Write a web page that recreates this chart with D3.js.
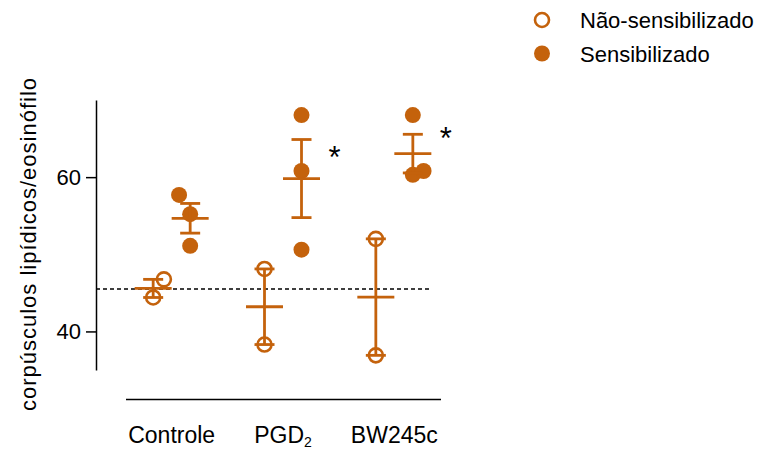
<!DOCTYPE html>
<html>
<head>
<meta charset="utf-8">
<script src="https://cdn.jsdelivr.net/npm/d3@7"></script>
<style>
  body { margin: 0; background: #fff; }
  svg { font-family: "Liberation Sans", Arial, sans-serif; }
</style>
</head>
<body>
<div id="container"></div>
<script>
/* DATA */
const categories = ['Controle', 'PGD2', 'BW245c'];
const series = ['Não-sensibilizado', 'Sensibilizado'];

// values per category, one array per series
const naoSensValues = [[44.4, 46.75], [48.1, 38.3], [52.0, 36.9]];
const sensValues = [[57.7, 55.2, 51.1], [68.05, 60.8, 50.6], [68.05, 60.3, 60.8]];
// small horizontal jitter of overlapping points (fraction of series spacing)
const naoSensJitter = [[0, 0.29], [0, 0], [0, 0]];
const sensJitter = [[-0.3, 0, 0], [0, 0, 0], [0, 0, 0.29]];

const yTicks = [40, 60];
const baseline = 45.5;           // dashed reference line
const signif = [{ cat: 'PGD2', y: 63.3 }, { cat: 'BW245c', y: 65.7 }];

const color = '#c4620c';

/* SVG */
const width = 768, height = 450;
const svg = d3.select('#container').append('svg')
  .attr('width', width)
  .attr('height', height);

// scales
const x = d3.scaleBand().domain(categories).range([116, 450]);
const xs = d3.scalePoint().domain(series).range([-18.5, 18.5]);
const y = d3.scaleLinear().domain([35, 70]).range([370, 100]);
const step = xs(series[1]) - xs(series[0]);

// build point + stats table
const groups = [];
categories.forEach((c, i) => {
  [naoSensValues[i], sensValues[i]].forEach((vals, s) => {
    const jit = s === 0 ? naoSensJitter[i] : sensJitter[i];
    const m = d3.mean(vals);
    const sem = d3.deviation(vals) / Math.sqrt(vals.length);
    groups.push({
      cat: c, series: series[s], filled: s === 1,
      cx: x(c) + x.bandwidth() / 2 + xs(series[s]),
      pts: vals.map((v, k) => ({ v, j: jit[k] })),
      mean: m, sem
    });
  });
});

// y axis
const yAxis = svg.append('g')
  .attr('transform', 'translate(96,0)')
  .call(d3.axisLeft(y).tickValues(yTicks).tickSize(10).tickPadding(5).tickSizeOuter(0));
yAxis.select('.domain').attr('stroke', '#000').attr('stroke-width', 1.5);
yAxis.selectAll('.tick line').attr('stroke', '#000').attr('stroke-width', 1.5);
yAxis.selectAll('.tick text').attr('font-size', 22).attr('fill', '#000')
  .attr('font-family', '"Liberation Sans", Arial, sans-serif');

// y title
svg.append('text')
  .attr('transform', `translate(36,${(75 + 413) / 2}) rotate(-90)`)
  .attr('text-anchor', 'middle')
  .attr('font-size', 22)
  .attr('letter-spacing', 1)
  .text('corpúsculos lipídicos/eosinófilo');

// x axis line (no ticks)
svg.append('line')
  .attr('x1', 126).attr('x2', 441)
  .attr('y1', 399.5).attr('y2', 399.5)
  .attr('stroke', '#000').attr('stroke-width', 1.5);

// category labels
svg.append('g').selectAll('text')
  .data(categories)
  .join('text')
  .attr('x', d => x(d) + x.bandwidth() / 2)
  .attr('y', 443)
  .attr('text-anchor', 'middle')
  .attr('font-size', 23)
  .each(function (d) {
    const t = d3.select(this);
    const m = d.match(/^(.*?)(\d)$/);
    if (d === 'PGD2' && m) {
      t.append('tspan').text(m[1]);
      t.append('tspan').attr('font-size', 14).attr('dy', 4).text(m[2]);
    } else {
      t.text(d);
    }
  });

// dashed baseline
svg.append('line')
  .attr('x1', 96).attr('x2', 430)
  .attr('y1', y(baseline)).attr('y2', y(baseline))
  .attr('stroke', '#000').attr('stroke-width', 1.5)
  .attr('stroke-dasharray', '4,3');

// points
const g = svg.append('g');
groups.forEach(gr => {
  g.selectAll(null)
    .data(gr.pts)
    .join('circle')
    .attr('cx', d => gr.cx + d.j * step)
    .attr('cy', d => y(d.v))
    .attr('r', gr.filled ? 8 : 7)
    .attr('fill', gr.filled ? color : 'none')
    .attr('stroke', color)
    .attr('stroke-width', gr.filled ? 0 : 2.6);
});

// mean +/- SEM
const bars = svg.append('g')
  .attr('stroke', color)
  .attr('stroke-width', 2.8)
  .selectAll('g')
  .data(groups)
  .join('g');
bars.append('line')
  .attr('x1', d => d.cx).attr('x2', d => d.cx)
  .attr('y1', d => y(d.mean + d.sem)).attr('y2', d => y(d.mean - d.sem));
bars.append('line')
  .attr('x1', d => d.cx - 18.5).attr('x2', d => d.cx + 18.5)
  .attr('y1', d => y(d.mean)).attr('y2', d => y(d.mean));
bars.selectAll('.cap')
  .data(d => [[d.cx, d.mean + d.sem], [d.cx, d.mean - d.sem]])
  .join('line')
  .attr('class', 'cap')
  .attr('x1', d => d[0] - 10).attr('x2', d => d[0] + 10)
  .attr('y1', d => y(d[1])).attr('y2', d => y(d[1]));

// significance marks
svg.append('g').selectAll('text')
  .data(signif)
  .join('text')
  .attr('x', d => x(d.cat) + x.bandwidth() / 2 + xs(series[1]) + 33)
  .attr('y', d => y(d.y) + 16)
  .attr('text-anchor', 'middle')
  .attr('font-size', 31)
  .text('*');

// legend
const legend = svg.append('g')
  .selectAll('g')
  .data(series)
  .join('g')
  .attr('transform', (d, i) => `translate(542,${20 + i * 33.5})`);
legend.append('circle')
  .attr('r', (d, i) => i ? 8 : 7)
  .attr('fill', (d, i) => i ? color : 'none')
  .attr('stroke', color)
  .attr('stroke-width', (d, i) => i ? 0 : 2.6);
legend.append('text')
  .attr('x', 38)
  .attr('y', 8)
  .attr('font-size', 22)
  .text(d => d);
</script>
</body>
</html>
